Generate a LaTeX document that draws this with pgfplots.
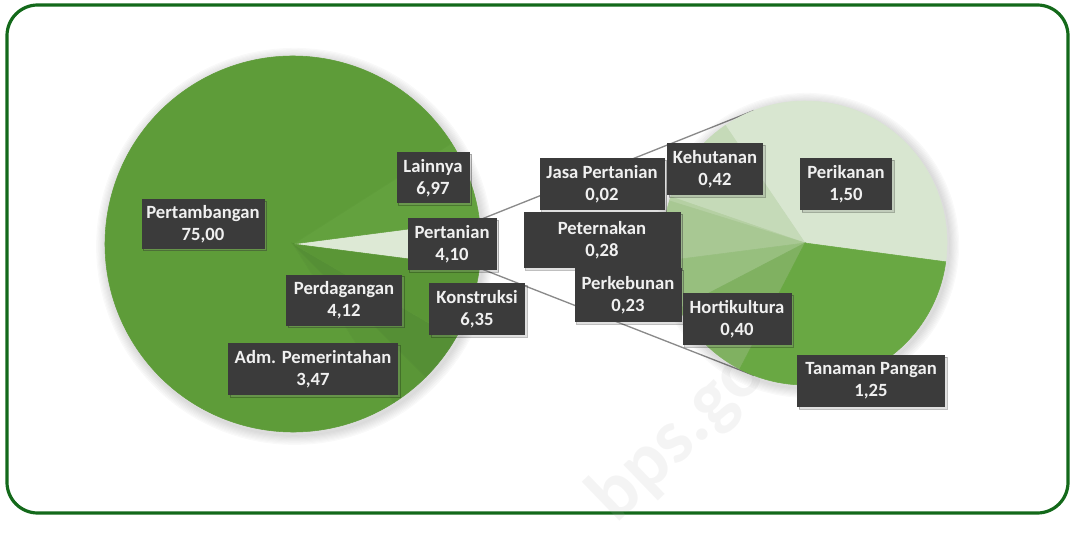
\documentclass[border=0pt]{standalone}
\usepackage{fontspec}
\setmainfont{Carlito}
\usepackage{pgfplots}
\pgfplotsset{compat=1.18}
\usepackage{pgfplotstable}
\usetikzlibrary{shadows}

\definecolor{framegreen}{HTML}{13691A}
\definecolor{lblfill}{HTML}{3B3B3B}
\definecolor{connector}{HTML}{8A8A8A}
% main pie
\definecolor{mPer}{HTML}{DDE9D5}
\definecolor{mLai}{HTML}{63A13E}
\definecolor{mTam}{HTML}{5E9C39}
\definecolor{mAdm}{HTML}{5A9637}
\definecolor{mDag}{HTML}{558F35}
\definecolor{mKon}{HTML}{5A9636}
% secondary pie
\definecolor{sIkn}{HTML}{D8E6D0}
\definecolor{sHut}{HTML}{C5DAB8}
\definecolor{sJas}{HTML}{B5D0A3}
\definecolor{sTer}{HTML}{A8C893}
\definecolor{sKeb}{HTML}{97BF7E}
\definecolor{sHor}{HTML}{80B161}
\definecolor{sPan}{HTML}{69A843}

% value in percent, label box centre (lx,ly) and size (w,h) in px
\pgfplotstableread[col sep=comma]{
name,value,col,lx,ly,w,h
Pertanian,4.10,mPer,452,272,89,52
Lainnya,6.97,mLai,433,338,73,51
Pertambangan,75.00,mTam,203,292,123,49
Adm. Pemerintahan,3.47,mAdm,313,147,170,52
Perdagangan,4.12,mDag,344,216,116,51
Konstruksi,6.35,mKon,477,207,96,52
}\mainpie
\pgfplotstablecreatecol[create col/expr accum={\pgfmathaccuma+\thisrow{value}}{0}]{cum}\mainpie
\pgfplotstablecreatecol[create col/set={293}]{cx}\mainpie
\pgfplotstablecreatecol[create col/set={272}]{cy}\mainpie

% shares of Pertanian, same units
\pgfplotstableread[col sep=comma]{
name,value,col,lx,ly,w,h
Perikanan,1.50,sIkn,846,332,92,52
Kehutanan,0.42,sHut,715,347,96,52
Jasa Pertanian,0.02,sJas,602,332,125,52
Peternakan,0.28,sTer,602,276,157,56
Perkebunan,0.23,sKeb,628,221,107,54
Hortikultura,0.40,sHor,737,197,109,52
Tanaman Pangan,1.25,sPan,871,135,148,52
}\subpie
\pgfplotstablecreatecol[create col/expr accum={\pgfmathaccuma+\thisrow{value}}{0}]{cum}\subpie
\pgfplotstablecreatecol[create col/set={805}]{cx}\subpie
\pgfplotstablecreatecol[create col/set={273}]{cy}\subpie

\pgfplotsset{
  % #1 start angle, #2 degrees per unit, #3 radius in pt
  pie slices/.style n args={3}{
    scatter, only marks, mark=*, mark size=0pt,
    mark options={draw=none, fill=none},
    point meta=explicit symbolic,
    visualization depends on={#1+#2*(\thisrow{cum}-\thisrow{value})\as\angA},
    visualization depends on={#1+#2*\thisrow{cum}\as\angB},
    scatter/@pre marker code/.code={
      \fill[\pgfplotspointmeta] (0,0) -- (\angA:#3pt)
        arc[start angle=\angA, end angle=\angB, radius=#3pt] -- cycle;
    },
    scatter/@post marker code/.code={},
  },
  pie labels/.style={
    scatter, only marks, mark=*, mark size=0pt,
    mark options={draw=none, fill=none},
    point meta=explicit symbolic,
    visualization depends on={\thisrow{value}\as\lval},
    visualization depends on={0.75*\thisrow{w}\as\lw},
    visualization depends on={0.75*\thisrow{h}\as\lh},
    scatter/@pre marker code/.code={
      \node[fill=lblfill, text=white!94!black, inner sep=0pt, align=center,
        minimum width=\lw pt, minimum height=\lh pt,
        drop shadow={shadow xshift=1.5pt, shadow yshift=-1.5pt, opacity=0.25},
        font=\fontsize{14}{16.5}\selectfont\bfseries]
        {\pgfplotspointmeta\\\pgfmathprintnumber[fixed, fixed zerofill, precision=2,
          use comma, assume math mode=true]{\lval}};
    },
    scatter/@post marker code/.code={},
  },
}

\begin{document}
\begin{tikzpicture}
\begin{axis}[
  width=804.75pt, height=387pt, scale only axis,
  xmin=0, xmax=1073, ymin=0, ymax=516,
  hide axis, clip=false,
]
% whole canvas and frame
\path (axis cs:0,0) rectangle (axis cs:1073,516);
\draw[framegreen, line width=2.4pt, rounded corners=23pt]
  (axis cs:7,3) rectangle (axis cs:1068,511);

% soft shadows of both pies
\addplot[scatter, only marks, mark=*, mark size=0pt,
  mark options={draw=none, fill=none},
  visualization depends on={0.75*\thisrow{r}\as\rr},
  scatter/@pre marker code/.code={
    \foreach \k in {1,...,9}{
      \fill[black, opacity=0.017] (1.2pt,-1.8pt) circle[radius=\rr pt+\k*0.85pt];
    }
  },
  scatter/@post marker code/.code={},
] table[row sep=\\] {x y r\\ 293 272 188\\ 805 273 142\\};

% connector lines
\addplot[connector, line width=1pt] coordinates {(479.4,296.1) (754,405.5)};
\addplot[connector, line width=1pt] coordinates {(479.4,247.9) (754,140.5)};

% pies
\addplot[pie slices={-7.38}{3.6}{141}] table[x=cx, y=cy, meta=col] {\mainpie};
\addplot[pie slices={-7.6}{87.8049}{106.5}] table[x=cx, y=cy, meta=col] {\subpie};

% watermark
\node[rotate=44, text={rgb,255:red,172;green,172;blue,172}, opacity=0.13,
  font=\fontsize{58}{58}\selectfont\bfseries] at (axis cs:708,108) {bps.go.id};

% labels
\addplot[pie labels] table[x=lx, y=ly, meta=name] {\mainpie};
\addplot[pie labels] table[x=lx, y=ly, meta=name] {\subpie};
\end{axis}
\end{tikzpicture}
\end{document}
